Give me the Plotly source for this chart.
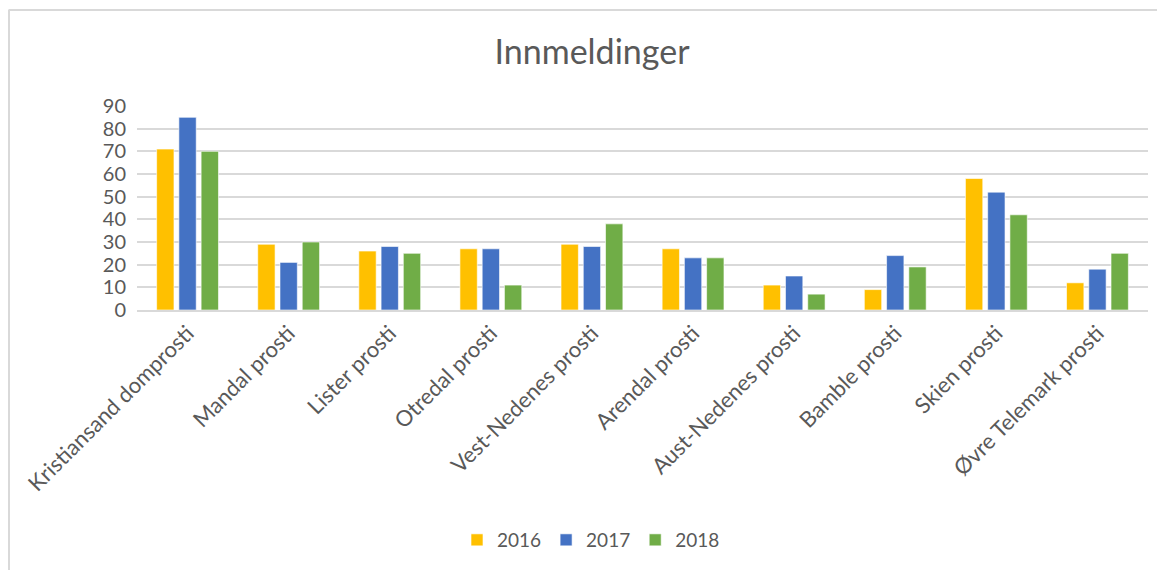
import plotly.graph_objects as go

categories = ["Kristiansand domprosti", "Mandal prosti", "Lister prosti", "Otredal prosti",
              "Vest-Nedenes prosti", "Arendal prosti", "Aust-Nedenes prosti", "Bamble prosti",
              "Skien prosti", "Øvre Telemark prosti"]
v2016 = [71, 29, 26, 27, 29, 27, 11, 9, 58, 12]
v2017 = [85, 21, 28, 27, 28, 23, 15, 24, 52, 18]
v2018 = [70, 30, 25, 11, 38, 23, 7, 19, 42, 25]
series = [("2016", v2016, "#FFC000"), ("2017", v2017, "#4472C4"), ("2018", v2018, "#70AD47")]
yticks = [0, 10, 20, 30, 40, 50, 60, 70, 80, 90]

# page body has an 8px margin; figure coordinates are offset by (8, 8)
W, H = 1157, 562
L, R, T, B = 129, 17, 98, 260
pw, ph = W - L - R, H - T - B

FONT = "Lato, Calibri, Carlito, sans-serif"
GREY = "#595959"
fig = go.Figure()
for name, vals, col in series:
    fig.add_trace(go.Bar(x=categories, y=vals, name=name, marker_color=col,
                         marker_line=dict(color="rgba(255,255,255,0.6)", width=1)))

def px_x(x):
    return (x - L) / pw

def px_y(y):
    return (H - B - y) / ph

fig.update_layout(
    width=W, height=H,
    margin=dict(l=L, r=R, t=T, b=B),
    paper_bgcolor="white", plot_bgcolor="white",
    font=dict(family=FONT, color=GREY, size=19),
    title=dict(text="Innmeldinger", x=584 / W, xanchor="center", xref="container",
               y=1 - 44 / H, yanchor="middle", font=dict(size=34, color=GREY, family=FONT)),
    barmode="group", bargap=0.34, bargroupgap=0.22,
    legend=dict(orientation="h", x=px_x(583), xanchor="center",
                y=px_y(532), yanchor="middle", font=dict(size=19, color=GREY),
                traceorder="normal"),
    showlegend=True,
    shapes=[
        dict(type="line", xref="paper", yref="paper", x0=px_x(0.5), x1=px_x(1157),
             y0=px_y(2), y1=px_y(2), line=dict(color="#D9D9D9", width=2)),
        dict(type="line", xref="paper", yref="paper", x0=px_x(1), x1=px_x(1),
             y0=px_y(2), y1=px_y(562), line=dict(color="#D9D9D9", width=2)),
    ],
)
fig.update_xaxes(tickangle=-45, tickfont=dict(size=22, color=GREY), showgrid=False,
                 showline=True, linecolor="#D9D9D9", linewidth=1.5, ticks="")
fig.update_yaxes(range=[0, 90], tickvals=yticks, tickfont=dict(size=20, color=GREY),
                 showgrid=True, gridcolor="#D9D9D9", gridwidth=1.5, zeroline=False,
                 showline=False, ticks="", ticklabelstandoff=10)

fig.write_html("out.html")
